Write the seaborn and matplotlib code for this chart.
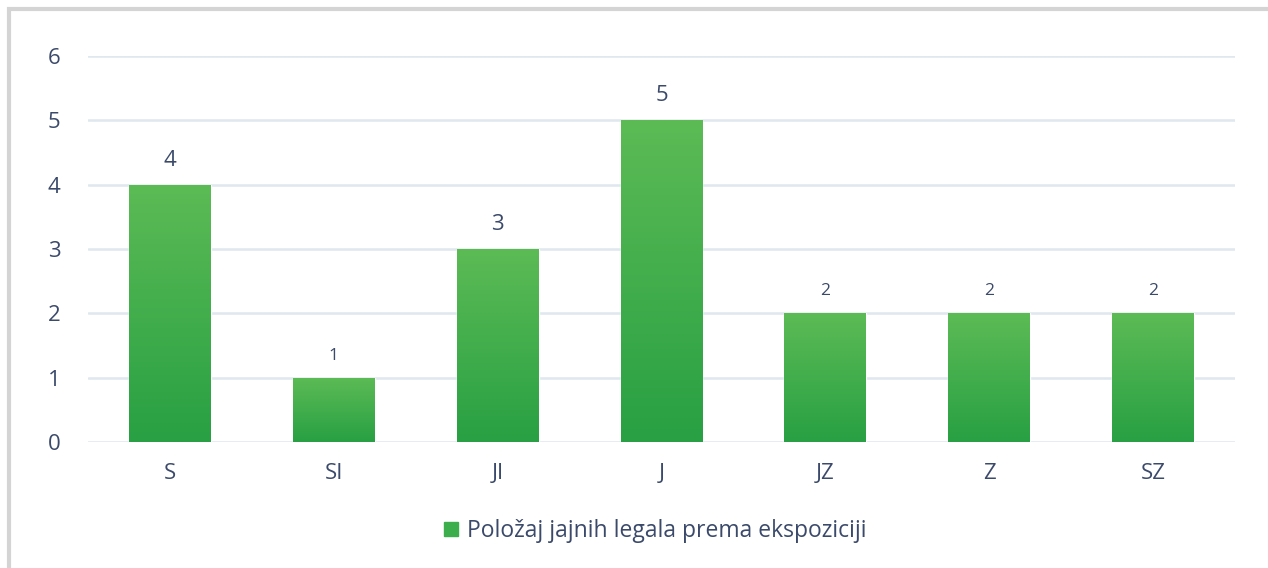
import numpy as np
import pandas as pd
import seaborn as sns
from matplotlib import pyplot as plt
from matplotlib.patches import Rectangle
from matplotlib.lines import Line2D
from matplotlib.colors import LinearSegmentedColormap

# data
directions = ["S", "SI", "JI", "J", "JZ", "Z", "SZ"]
counts = [4, 1, 3, 5, 2, 2, 2]
series_name = "Položaj jajnih legala prema ekspoziciji"

df = pd.DataFrame({"dir": directions, "count": counts})

sns.set_style("white")
plt.rcParams["font.family"] = ["Open Sans", "DejaVu Sans"]

text_col = "#3b4a6b"
grid_col = "#dfe7ef"

fig = plt.figure(figsize=(12.68, 5.68), dpi=100)
ax = fig.add_axes([88 / 1268, 1 - 442 / 568, (1235 - 88) / 1268, (442 - 56) / 568])

sns.barplot(data=df, x="dir", y="count", color="#3cae4c", width=0.5, ax=ax,
            saturation=1, label=series_name, zorder=3)

# vertical gradient on each bar
cmap = LinearSegmentedColormap.from_list("g", ["#28a043", "#5cbb55"])
grad = np.linspace(0, 1, 256).reshape(-1, 1)
for p in ax.patches:
    x0, y0 = p.get_x(), p.get_y()
    w, h = p.get_width(), p.get_height()
    im = ax.imshow(grad, cmap=cmap, origin="lower", aspect="auto",
                   extent=(x0, x0 + w, y0, y0 + h), zorder=4)
    im.set_clip_path(p)

for p, v in zip(ax.patches, counts):
    fs = 16 if v >= 3 else 12.5
    ax.text(p.get_x() + p.get_width() / 2, v + 0.22, str(v), ha="center", va="bottom",
            color=text_col, fontsize=fs, zorder=5)

ax.set_xlim(-0.5, len(directions) - 0.5)
ax.set_ylim(0, 6)
ax.set_yticks(range(0, 7))
ax.yaxis.grid(True, color=grid_col, linewidth=1.8, zorder=0)
ax.set_axisbelow(True)
for s in ax.spines.values():
    s.set_visible(False)
ax.tick_params(axis="both", length=0, labelsize=16, labelcolor=text_col)
ax.tick_params(axis="y", pad=20)
ax.tick_params(axis="x", pad=15)
ax.set_xlabel("")
ax.set_ylabel("")

ax.legend(handles=[Rectangle((0, 0), 1, 1, color="#3cae4c")], labels=[series_name],
          loc="center", bbox_to_anchor=(655 / 1268, 1 - 531 / 568),
          bbox_transform=fig.transFigure, frameon=False, fontsize=16.5,
          handlelength=0.6, handleheight=0.6, handletextpad=0.4, labelcolor=text_col)

# outer frame: only left and top edges are visible in the crop
fx, fy = 9 / 1268, 1 - 9 / 568
fig.add_artist(Line2D([fx, fx, 1.0], [0.0, fy, fy], transform=fig.transFigure,
                      color="#d4d4d4", linewidth=3, solid_joinstyle="miter"))

fig.savefig("out.png", dpi=100)
